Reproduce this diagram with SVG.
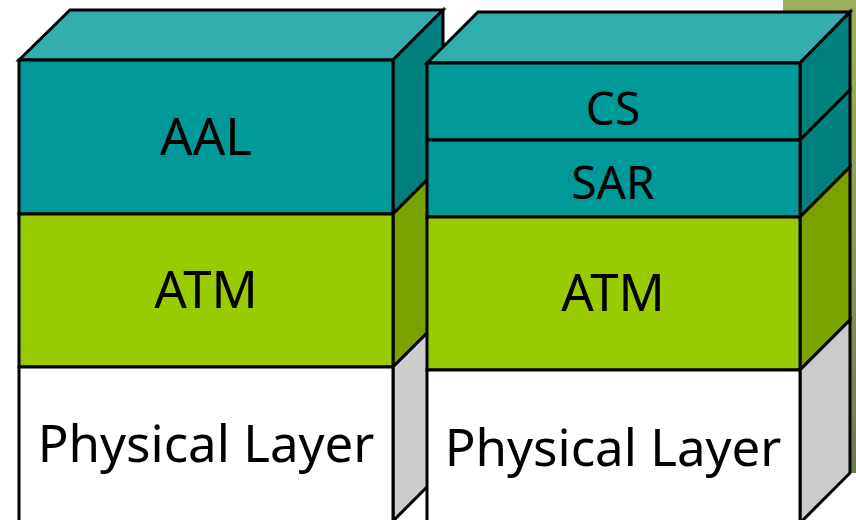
<svg xmlns="http://www.w3.org/2000/svg" width="856" height="520" viewBox="0 0 856 520">
  <defs>
    <linearGradient id="bandFill" x1="0" y1="0" x2="0" y2="1">
      <stop offset="0" stop-color="#9CB060"/>
      <stop offset="0.45" stop-color="#8A9E55"/>
      <stop offset="1" stop-color="#6A7A4A"/>
    </linearGradient>
  </defs>
  <style>
    .edge { stroke: #000; stroke-width: 3; stroke-linejoin: miter; }
    .tealTop { fill: #33AEAE; }
    .tealFront { fill: #009999; }
    .tealSide { fill: #007F7F; }
    .greenFront { fill: #99CC00; }
    .greenSide { fill: #7BA300; }
    .whiteFront { fill: #FFFFFF; }
    .greySide { fill: #CCCCCC; }
    .label { font-family: "Noto Sans", "DejaVu Sans", sans-serif; fill: #000; text-anchor: middle; }
    .big { font-size: 51px; }
    .small { font-size: 46px; }
  </style>

  <!-- decorative band behind the right stack -->
  <rect x="783" y="0" width="73" height="473" fill="url(#bandFill)"/>

  <!-- left stack: AAL / ATM / Physical -->
  <g id="left-stack">
    <polygon class="edge tealTop" points="19,60 70,10 443,10 393,60"/>
    <g id="left-aal">
      <polygon class="edge tealSide" points="393,60 443,10 443,164 393,214"/>
      <rect class="edge tealFront" x="19" y="60" width="374" height="154"/>
      <text class="label big" x="206" y="155">AAL</text>
    </g>
    <g id="left-atm">
      <polygon class="edge greenSide" points="393,214 443,164 443,317 393,367"/>
      <rect class="edge greenFront" x="19" y="214" width="374" height="153"/>
      <text class="label big" x="206" y="308">ATM</text>
    </g>
    <g id="left-physical">
      <polygon class="edge greySide" points="393,367 443,317 443,471 393,521"/>
      <rect class="edge whiteFront" x="19" y="367" width="374" height="156"/>
      <text class="label big" x="206" y="462">Physical Layer</text>
    </g>
  </g>

  <!-- right stack: CS / SAR / ATM / Physical -->
  <g id="right-stack">
    <polygon class="edge tealTop" points="427,63 478,12 850,12 800,63"/>
    <g id="right-cs">
      <polygon class="edge tealSide" points="800,63 850,12 850,90 800,140"/>
      <rect class="edge tealFront" x="427" y="63" width="373" height="77"/>
      <text class="label small" x="613" y="125">CS</text>
    </g>
    <g id="right-sar">
      <polygon class="edge tealSide" points="800,140 850,90 850,167 800,217"/>
      <rect class="edge tealFront" x="427" y="140" width="373" height="77"/>
      <text class="label small" x="613" y="199">SAR</text>
    </g>
    <g id="right-atm">
      <polygon class="edge greenSide" points="800,217 850,167 850,320 800,370"/>
      <rect class="edge greenFront" x="427" y="217" width="373" height="153"/>
      <text class="label big" x="613" y="311">ATM</text>
    </g>
    <g id="right-physical">
      <polygon class="edge greySide" points="800,370 850,320 850,473 800,523"/>
      <rect class="edge whiteFront" x="427" y="370" width="373" height="156"/>
      <text class="label big" x="613" y="466">Physical Layer</text>
    </g>
  </g>
</svg>
